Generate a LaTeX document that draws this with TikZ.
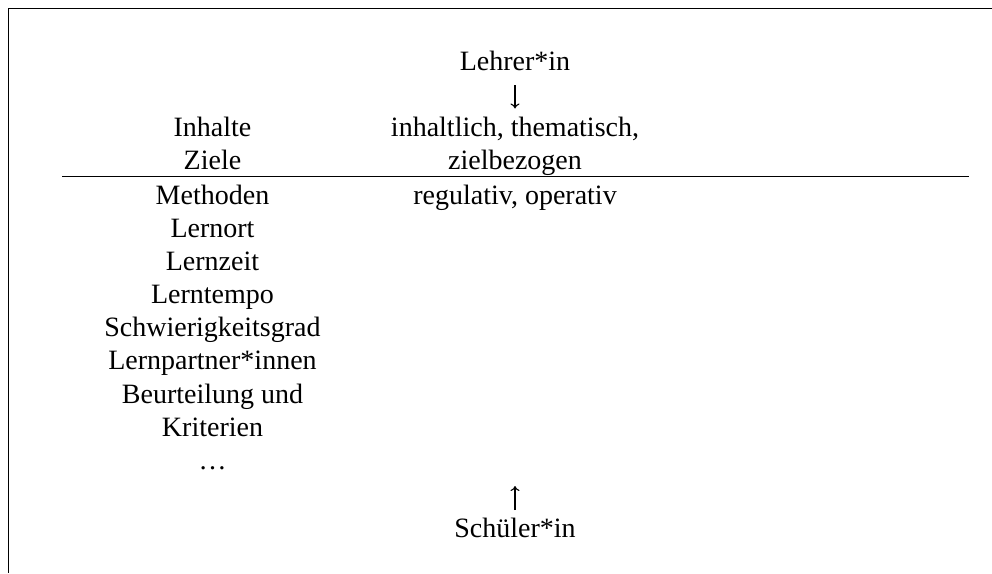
\documentclass[tikz,border=0pt]{standalone}
\usepackage{fontspec}
\setmainfont{Liberation Serif}
\usetikzlibrary{arrows.meta}
\begin{document}
\begin{tikzpicture}[x=1pt,y=-1pt,
  txt/.style={anchor=base,inner sep=0pt,font=\fontsize{28}{33}\selectfont},
  frame/.style={line width=1.8pt,line join=miter},
  rule/.style={line width=1.5pt},
  flow/.style={line width=1.1pt,-{To[length=5pt,width=9pt,line width=1.1pt]}}]
\useasboundingbox (0,0) rectangle (992,573);
% open frame: top and left edges only
\draw[frame] (992,8.5) -- (8.5,8.5) -- (8.5,573);
% middle column
\node[txt] (lehrer) at (515,70) {Lehrer*in};
\node[txt] (inh) at (515,136.5) {inhaltlich, thematisch,};
\node[txt] (ziel) at (515,169.5) {zielbezogen};
\node[txt] (reg) at (515,204) {regulativ, operativ};
\node[txt] (schueler) at (515,537) {Schüler*in};
% left column
\node[txt] (inhalte) at (212.5,136.5) {Inhalte};
\node[txt] (ziele) at (212.5,169.5) {Ziele};
\node[txt] (methoden) at (212.5,204) {Methoden};
\node[txt] (lernort) at (212.5,237) {Lernort};
\node[txt] (lernzeit) at (212.5,270) {Lernzeit};
\node[txt] (lerntempo) at (212.5,303) {Lerntempo};
\node[txt] (schwier) at (212.5,336.5) {Schwierigkeitsgrad};
\node[txt] (partner) at (212.5,369.5) {Lernpartner*innen};
\node[txt] (beurt) at (212.5,403) {Beurteilung und};
\node[txt] (krit) at (212.5,436) {Kriterien};
\node[txt] (dots) at (212.5,469) {…};
% arrows between the roles and the columns
\coordinate (downTop) at (515,85);
\coordinate (downTip) at (515,108.5);
\coordinate (upTip) at (515,486);
\coordinate (upFoot) at (515,510);
\draw[flow] (downTop) -- (downTip);
\draw[flow] (upFoot) -- (upTip);
% dividing rule
\coordinate (ruleL) at (62,176.7);
\coordinate (ruleR) at (969,176.7);
\draw[rule] (ruleL) -- (ruleR);
\end{tikzpicture}
\end{document}
